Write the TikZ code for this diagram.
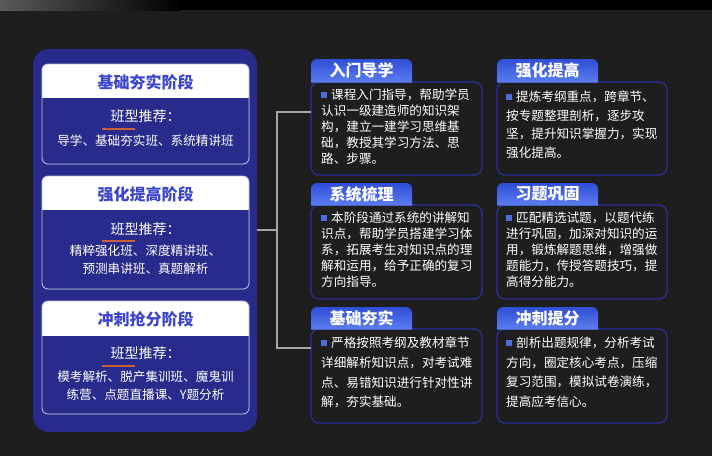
\documentclass[tikz,border=0pt]{standalone}
\usepackage{fontspec}
\setmainfont{Noto Sans CJK SC}
\definecolor{bg}{HTML}{1E1E1E}
\definecolor{panelblue}{HTML}{282A8C}
\definecolor{cardline}{HTML}{C4C4E8}
\definecolor{titleblue}{HTML}{3C46CC}
\definecolor{accent}{HTML}{C8603C}
\definecolor{boxline}{HTML}{2C309E}
\definecolor{tabtop}{HTML}{2F4ED6}
\definecolor{tabbot}{HTML}{5C7EF0}
\definecolor{bulletblue}{HTML}{4C6CE6}
\definecolor{conn}{HTML}{A6A6A6}
\newcommand{\bul}{\textcolor{bulletblue}{\raisebox{1.8pt}{\rule{6pt}{6pt}}}\hspace{4pt}}
\begin{document}
\begin{tikzpicture}[x=1pt,y=-1pt,
  panel/.style={fill=panelblue, rounded corners=16pt, inner sep=0, outer sep=0, minimum width=224pt, minimum height=383pt},
  cardframe/.style={draw=cardline, line width=0.8pt, rounded corners=6pt, inner sep=0, outer sep=0, minimum width=207pt},
  cardtitle/.style={font=\fontsize{16}{16}\selectfont\bfseries, text=titleblue, inner sep=0},
  cardsub/.style={font=\fontsize{14}{14}\selectfont, text=white, inner sep=0},
  cardlist/.style={font=\fontsize{12.6}{18}\selectfont, text=white, align=center, inner sep=0},
  boxbody/.style={draw=boxline, line width=1.2pt, fill=bg, rounded corners=8pt, inner sep=0, outer sep=0},
  tabshade/.style={top color=tabtop, bottom color=tabbot, rounded corners=6pt},
  tabtitle/.style={font=\fontsize{16}{16}\selectfont\bfseries, text=white, inner sep=0},
  bodytext/.style={text=white, align=left, anchor=west, inner sep=0},
  connector/.style={draw=conn, line width=1.2pt}
]
\useasboundingbox (0,0) rectangle (712,456);
\fill[bg] (0,0) rectangle (712,456);
\fill[black] (0,0) rectangle (712,10);
\shade[left color={rgb,255:red,90;green,90;blue,90}, right color=black] (0,0) rectangle (180,10);

% left panel
\node[panel] (panel) at (145,240.5) {};

% card 1
\fill[white, rounded corners=6pt] (42,64) rectangle (249,164);
\fill[panelblue, rounded corners=6pt] (42,98) -- (42,164) -- (249,164) -- (249,98);
\node[cardframe, minimum height=100pt] (card1) at (145.5,114) {};
\node[cardtitle] (c1t) at (145.5,82) {基础夯实阶段};
\node[cardsub] (c1s) at (145.5,116) {班型推荐：};
\fill[accent] (102,128) rectangle (135,130);
\node[cardlist] (c1l) at (145.5,141) {导学、基础夯实班、系统精讲班};

% card 2
\fill[white, rounded corners=6pt] (42,176) rectangle (249,289);
\fill[panelblue, rounded corners=6pt] (42,210) -- (42,289) -- (249,289) -- (249,210);
\node[cardframe, minimum height=113pt] (card2) at (145.5,232.5) {};
\node[cardtitle] (c2t) at (145.5,194) {强化提高阶段};
\node[cardsub] (c2s) at (145.5,229) {班型推荐：};
\fill[accent] (102,240) rectangle (135,242);
\node[cardlist] (c2l) at (145.5,260) {精粹强化班、深度精讲班、\\预测串讲班、真题解析};

% card 3
\fill[white, rounded corners=6pt] (42,301) rectangle (249,414);
\fill[panelblue, rounded corners=6pt] (42,336) -- (42,414) -- (249,414) -- (249,336);
\node[cardframe, minimum height=113pt] (card3) at (145.5,357.5) {};
\node[cardtitle] (c3t) at (145.5,319) {冲刺抢分阶段};
\node[cardsub] (c3s) at (145.5,353) {班型推荐：};
\fill[accent] (102,365) rectangle (135,367);
\node[cardlist] (c3l) at (145.5,386) {模考解析、脱产集训班、魔鬼训\\练营、点题直播课、Y题分析};

% right boxes
\node[boxbody, minimum width=171pt, minimum height=93pt] (b1) at (396.5,128.5) {};
\node[boxbody, minimum width=170pt, minimum height=93pt] (b2) at (582,128.5) {};
\node[boxbody, minimum width=171pt, minimum height=94pt] (b3) at (396.5,252) {};
\node[boxbody, minimum width=170pt, minimum height=94pt] (b4) at (582,252) {};
\node[boxbody, minimum width=171pt, minimum height=94pt] (b5) at (396.5,376) {};
\node[boxbody, minimum width=170pt, minimum height=94pt] (b6) at (582,376) {};

% tabs
\shade[tabshade] (311,82.6) -- (311,59) -- (412,59) -- (412,82.6);
\shade[tabshade] (497,82.6) -- (497,59) -- (598,59) -- (598,82.6);
\shade[tabshade] (311,205.6) -- (311,183) -- (412,183) -- (412,205.6);
\shade[tabshade] (497,205.6) -- (497,183) -- (598,183) -- (598,205.6);
\shade[tabshade] (311,329.6) -- (311,307) -- (412,307) -- (412,329.6);
\shade[tabshade] (497,329.6) -- (497,307) -- (598,307) -- (598,329.6);
\node[tabtitle] (h1) at (361.5,70.5) {入门导学};
\node[tabtitle] (h2) at (547.5,70.5) {强化提高};
\node[tabtitle] (h3) at (361.5,194) {系统梳理};
\node[tabtitle] (h4) at (547.5,194) {习题巩固};
\node[tabtitle] (h5) at (361.5,318) {基础夯实};
\node[tabtitle] (h6) at (547.5,318) {冲刺提分};

% texts
\node[bodytext, font=\fontsize{12.6}{16}\selectfont] (x1) at (321,127) {\bul 课程入门指导，帮助学员\\认识一级建造师的知识架\\构，建立一建学习思维基\\础，教授其学习方法、思\\路、步骤。};
\node[bodytext, font=\fontsize{12.6}{18.6}\selectfont] (x2) at (506,124.7) {\bul 提炼考纲重点，跨章节、\\按专题整理剖析，逐步攻\\坚，提升知识掌握力，实现\\强化提高。};
\node[bodytext, font=\fontsize{12.6}{16}\selectfont] (x3) at (321,250) {\bul 本阶段通过系统的讲解知\\识点，帮助学员搭建学习体\\系，拓展考生对知识点的理\\解和运用，给予正确的复习\\方向指导。};
\node[bodytext, font=\fontsize{12.6}{16}\selectfont] (x4) at (506,250) {\bul 匹配精选试题，以题代练\\进行巩固，加深对知识的运\\用，锻炼解题思维，增强做\\题能力，传授答题技巧，提\\高得分能力。};
\node[bodytext, font=\fontsize{12.6}{19.7}\selectfont] (x5) at (321,372.5) {\bul 严格按照考纲及教材章节\\详细解析知识点，对考试难\\点、易错知识进行针对性讲\\解，夯实基础。};
\node[bodytext, font=\fontsize{12.6}{19.5}\selectfont] (x6) at (506,372) {\bul 剖析出题规律，分析考试\\方向，圈定核心考点，压缩\\复习范围，模拟试卷演练，\\提高应考信心。};

% connectors
\coordinate (j) at (277,230);
\coordinate (jt) at (277,112);
\coordinate (jb) at (277,348);
\draw[connector] (panel.east |- j) -- (j);
\draw[connector] (b1.west |- jt) -- (jt) -- (jb) -- (b5.west |- jb);
\end{tikzpicture}
\end{document}
